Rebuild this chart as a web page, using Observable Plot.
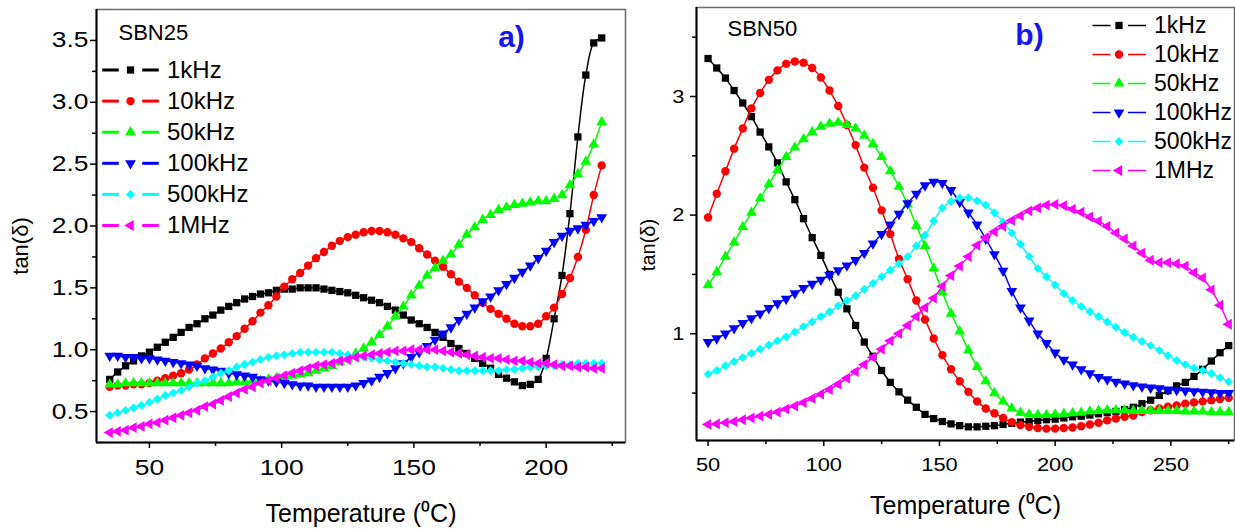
<!DOCTYPE html>
<html><head><meta charset="utf-8">
<script src="https://cdn.jsdelivr.net/npm/d3@7"></script>
<script src="https://cdn.jsdelivr.net/npm/@observablehq/plot@0.6"></script>
<style>
body{margin:0;background:#fff;}
#wrap{display:flex;width:1235px;height:529px;overflow:hidden;}
#wrap svg{display:block;}
</style></head><body><div id="wrap"></div>
<script>
// ---------- DATA ----------
const seriesNames = ["1kHz","10kHz","50kHz","100kHz","500kHz","1MHz"];
const seriesColors = ["#000000","#ff0000","#00ff00","#0000ff","#00ffff","#ff00ff"];

// Panel a) SBN25
const tempsA = [35,38,41,44,47,50,53,56,59,62,65,68,71,74,77,80,83,86,89,92,95,98,101,104,107,110,113,116,119,122,125,128,131,134,137,140,143,146,149,152,155,158,161,164,167,170,173,176,179,182,185,188,191,194,197,200,203,206,209,212,215,218,221];
const a1kHz = [0.76,0.82,0.87,0.91,0.95,0.98,1.02,1.06,1.10,1.14,1.18,1.21,1.25,1.28,1.32,1.35,1.38,1.41,1.43,1.45,1.46,1.48,1.49,1.49,1.50,1.50,1.50,1.49,1.48,1.47,1.46,1.44,1.42,1.40,1.38,1.35,1.32,1.28,1.24,1.21,1.18,1.14,1.10,1.05,1.01,0.97,0.93,0.89,0.85,0.80,0.77,0.74,0.71,0.72,0.76,0.93,1.25,1.60,2.10,2.72,3.22,3.48,3.52];
const a10kHz = [0.70,0.71,0.71,0.72,0.72,0.73,0.75,0.77,0.79,0.81,0.84,0.88,0.93,0.97,1.01,1.06,1.11,1.17,1.23,1.30,1.36,1.43,1.51,1.57,1.62,1.68,1.74,1.79,1.84,1.88,1.91,1.93,1.95,1.96,1.96,1.95,1.93,1.90,1.87,1.82,1.77,1.72,1.67,1.61,1.55,1.50,1.44,1.38,1.33,1.29,1.25,1.21,1.19,1.19,1.21,1.27,1.34,1.45,1.58,1.75,1.97,2.25,2.49];
const a50kHz = [0.72,0.72,0.73,0.73,0.73,0.73,0.73,0.73,0.73,0.73,0.73,0.73,0.73,0.73,0.73,0.73,0.74,0.74,0.75,0.75,0.76,0.77,0.78,0.79,0.80,0.81,0.83,0.85,0.87,0.90,0.93,0.97,1.01,1.06,1.12,1.19,1.27,1.35,1.44,1.52,1.60,1.66,1.72,1.77,1.85,1.93,1.99,2.05,2.09,2.13,2.15,2.17,2.18,2.19,2.20,2.20,2.22,2.25,2.33,2.42,2.52,2.66,2.84];
const a100kHz = [0.95,0.95,0.94,0.94,0.93,0.93,0.92,0.91,0.90,0.89,0.88,0.87,0.85,0.84,0.83,0.81,0.80,0.79,0.78,0.76,0.75,0.74,0.73,0.72,0.71,0.71,0.70,0.70,0.70,0.70,0.70,0.71,0.73,0.75,0.78,0.81,0.85,0.89,0.94,0.98,1.03,1.08,1.13,1.18,1.24,1.29,1.34,1.39,1.43,1.48,1.53,1.58,1.63,1.68,1.74,1.80,1.87,1.92,1.96,1.98,2.01,2.04,2.07];
const a500kHz = [0.47,0.49,0.51,0.53,0.55,0.575,0.60,0.63,0.65,0.67,0.70,0.73,0.75,0.78,0.81,0.83,0.86,0.88,0.90,0.92,0.94,0.95,0.96,0.97,0.98,0.98,0.98,0.98,0.98,0.97,0.96,0.95,0.94,0.93,0.92,0.91,0.90,0.89,0.88,0.87,0.86,0.86,0.85,0.84,0.83,0.83,0.83,0.83,0.83,0.83,0.84,0.84,0.85,0.86,0.86,0.87,0.87,0.88,0.88,0.89,0.89,0.89,0.89];
const a1MHz = [0.33,0.34,0.35,0.37,0.38,0.40,0.41,0.43,0.45,0.47,0.49,0.51,0.54,0.56,0.59,0.62,0.65,0.68,0.70,0.73,0.75,0.77,0.79,0.81,0.83,0.85,0.87,0.88,0.89,0.91,0.92,0.94,0.95,0.96,0.97,0.98,0.99,0.99,1.00,1.00,1.00,1.00,0.99,0.98,0.97,0.96,0.95,0.94,0.93,0.93,0.92,0.91,0.91,0.90,0.89,0.89,0.88,0.87,0.87,0.86,0.86,0.85,0.85];

// Panel b) SBN50
const tempsB = [50,53.75,57.5,61.25,65,68.75,72.5,76.25,80,83.75,87.5,91.25,95,98.75,102.5,106.25,110,113.75,117.5,121.25,125,128.75,132.5,136.25,140,143.75,147.5,151.25,155,158.75,162.5,166.25,170,173.75,177.5,181.25,185,188.75,192.5,196.25,200,203.75,207.5,211.25,215,218.75,222.5,226.25,230,233.75,237.5,241.25,245,248.75,252.5,256.25,260,263.75,267.5,271.25,275];
const b1kHz = [3.32,3.24,3.155,3.05,2.945,2.83,2.70,2.575,2.44,2.28,2.13,1.97,1.81,1.66,1.50,1.35,1.21,1.07,0.93,0.81,0.69,0.59,0.51,0.44,0.38,0.32,0.285,0.26,0.24,0.225,0.215,0.215,0.22,0.225,0.235,0.245,0.255,0.26,0.27,0.275,0.28,0.29,0.30,0.305,0.315,0.325,0.335,0.345,0.36,0.38,0.41,0.44,0.48,0.52,0.56,0.59,0.64,0.70,0.77,0.84,0.90];
const b10kHz = [1.98,2.18,2.37,2.56,2.73,2.90,3.03,3.14,3.22,3.275,3.295,3.285,3.24,3.16,3.05,2.92,2.76,2.59,2.40,2.23,2.04,1.84,1.63,1.46,1.28,1.12,0.96,0.82,0.70,0.60,0.51,0.43,0.37,0.33,0.29,0.255,0.23,0.215,0.205,0.20,0.20,0.205,0.21,0.22,0.235,0.25,0.27,0.285,0.30,0.31,0.34,0.355,0.37,0.385,0.395,0.41,0.42,0.43,0.44,0.45,0.46];
const b50kHz = [1.41,1.52,1.65,1.77,1.90,2.02,2.14,2.26,2.38,2.49,2.57,2.64,2.70,2.745,2.77,2.78,2.76,2.73,2.67,2.60,2.49,2.37,2.24,2.09,1.91,1.74,1.55,1.35,1.17,1.02,0.86,0.72,0.60,0.50,0.43,0.37,0.335,0.32,0.315,0.315,0.32,0.325,0.33,0.335,0.345,0.35,0.355,0.355,0.355,0.35,0.35,0.35,0.35,0.35,0.35,0.345,0.345,0.345,0.34,0.34,0.34];
const b100kHz = [0.93,0.96,1.00,1.045,1.09,1.13,1.17,1.215,1.255,1.295,1.34,1.385,1.42,1.455,1.495,1.535,1.575,1.62,1.68,1.76,1.84,1.92,2.01,2.10,2.18,2.25,2.28,2.27,2.21,2.11,2.02,1.92,1.80,1.67,1.53,1.36,1.22,1.11,1.00,0.92,0.84,0.78,0.74,0.70,0.665,0.635,0.615,0.595,0.58,0.565,0.555,0.545,0.54,0.53,0.525,0.52,0.515,0.51,0.505,0.50,0.50];
const b500kHz = [0.66,0.69,0.73,0.765,0.80,0.835,0.87,0.905,0.94,0.975,1.015,1.06,1.10,1.145,1.185,1.235,1.28,1.32,1.375,1.425,1.48,1.535,1.59,1.65,1.74,1.83,1.95,2.06,2.115,2.145,2.145,2.12,2.085,2.02,1.94,1.85,1.755,1.65,1.55,1.48,1.41,1.34,1.28,1.23,1.185,1.145,1.10,1.055,1.01,0.97,0.935,0.90,0.86,0.815,0.775,0.74,0.71,0.69,0.665,0.63,0.595];
const b1MHz = [0.235,0.24,0.25,0.26,0.275,0.29,0.305,0.32,0.34,0.365,0.39,0.42,0.455,0.49,0.53,0.575,0.625,0.68,0.74,0.80,0.87,0.94,1.00,1.07,1.145,1.22,1.30,1.40,1.49,1.57,1.65,1.745,1.81,1.86,1.905,1.955,1.995,2.035,2.06,2.085,2.09,2.08,2.05,2.025,1.985,1.95,1.905,1.85,1.80,1.74,1.68,1.62,1.60,1.60,1.59,1.57,1.515,1.47,1.37,1.24,1.08];

// Axis ticks
const xTicksA = [50,100,150,200], xMinorA = [75,125,175,225];
const yTicksA = [0.5,1.0,1.5,2.0,2.5,3.0,3.5], yMinorA = [0.75,1.25,1.75,2.25,2.75,3.25];
const xTicksB = [50,100,150,200,250], xMinorB = [75,125,175,225,275];
const yTicksB = [1,2,3], yMinorB = [0.5,1.5,2.5,3.5];

// ---------- SYMBOLS ----------
const sqrt3 = Math.sqrt(3);
const triDown = {draw(c, size){const y=-Math.sqrt(size/(sqrt3*3)); c.moveTo(0,-2*y); c.lineTo(-sqrt3*y,y); c.lineTo(sqrt3*y,y); c.closePath();}};
const triLeft = {draw(c, size){const y=-Math.sqrt(size/(sqrt3*3)); c.moveTo(2*y,0); c.lineTo(-y,-sqrt3*y); c.lineTo(-y,sqrt3*y); c.closePath();}};
const dash = {draw(c, size){const r=Math.sqrt(size/Math.PI); c.moveTo(-r,0); c.lineTo(r,0);}};
const symbols = ["square","circle","triangle",triDown,"diamond2",triLeft];
const radii = [4.1,4.2,4.0,4.0,4.0,4.0];

const FONT = "'Liberation Sans', Arial, Helvetica, sans-serif";

function panel(cfg){
  const marks = [];
  marks.push(Plot.frame({stroke:"#6a6a6a", strokeWidth:1.5}));
  marks.push(Plot.ruleX([cfg.xDomain[0]], {stroke:"#000", strokeWidth:2}));
  marks.push(Plot.ruleY([cfg.yDomain[0]], {stroke:"#000", strokeWidth:2}));
  marks.push(Plot.axisX({ticks: cfg.xTicks, tickSize:6, tickPadding:cfg.xPad, fontSize:cfg.tickFont, strokeWidth:1.5, label:null}));
  marks.push(Plot.axisX({ticks: cfg.xMinor, tickSize:4, tickFormat:()=>"", strokeWidth:1.5, label:null}));
  marks.push(Plot.axisY({ticks: cfg.yTicks, tickSize:6, tickPadding:cfg.yPad, fontSize:cfg.tickFont, strokeWidth:1.5, tickFormat: cfg.yFormat, label:null}));
  marks.push(Plot.axisY({ticks: cfg.yMinor, tickSize:4, tickFormat:()=>"", strokeWidth:1.5, label:null}));
  cfg.data.forEach((vals,i)=>{
    const rows = cfg.temps.map((t,j)=>({t, v: vals[j]}));
    marks.push(Plot.line(rows, {x:"t", y:"v", stroke: seriesColors[i], strokeWidth:1.5, curve:"catmull-rom"}));
    marks.push(Plot.dot(rows, {x:"t", y:"v", fill: seriesColors[i], stroke:"none", symbol: symbols[i], r: radii[i]}));
  });
  seriesNames.forEach((name,i)=>{
    const dy = cfg.leg.top + i*cfg.leg.step;
    for (const dx of [cfg.leg.d1, cfg.leg.d2]) {
      marks.push(Plot.dot([0], {frameAnchor:"top-left", dx, dy, symbol: dash, r: cfg.leg.half, stroke: seriesColors[i], strokeWidth: cfg.leg.lw, fill:"none"}));
    }
    marks.push(Plot.dot([0], {frameAnchor:"top-left", dx: cfg.leg.m, dy, symbol: symbols[i], r: radii[i], fill: seriesColors[i], stroke:"none"}));
    marks.push(Plot.text([name], {frameAnchor:"top-left", dx: cfg.leg.tx, dy, textAnchor:"start", lineAnchor:"middle", fontSize: cfg.leg.font, fill:"#000"}));
  });
  marks.push(Plot.text([cfg.name], {frameAnchor:"top-left", dx: cfg.nameX, dy: cfg.nameY, textAnchor:"start", lineAnchor:"middle", fontSize:22, fill:"#000"}));
  marks.push(Plot.text([cfg.tag], {frameAnchor:"top-left", dx: cfg.tagX, dy: cfg.tagY, textAnchor:"middle", lineAnchor:"middle", fontSize:30, fontWeight:"bold", fill:"#1515f0"}));
  marks.push(Plot.text(["Temperature (\u2070C)"], {frameAnchor:"bottom", dy: cfg.xLabY, lineAnchor:"middle", fontSize:25, fill:"#000"}));
  marks.push(Plot.text(["tan(\u03b4)"], {frameAnchor:"left", dx: cfg.yLabX, dy: cfg.yLabDy, rotate:-90, textAnchor:"middle", lineAnchor:"middle", fontSize: cfg.yLabFont, fill:"#000"}));

  const svg = Plot.plot({
    width: cfg.width, height: 529,
    marginLeft: cfg.ml, marginRight: cfg.mr, marginTop: cfg.mt, marginBottom: 529 - cfg.bottom,
    x: {domain: cfg.xDomain},
    y: {domain: cfg.yDomain},
    style: {fontFamily: FONT, color:"#000", background:"#fff", overflow:"visible"},
    marks
  });
  // widen tick labels horizontally (the reference's tick font is wider than Arial)
  svg.querySelectorAll('g[aria-label="x-axis tick label"] text, g[aria-label="y-axis tick label"] text').forEach(t => {
    const s = cfg.tickStretch;
    const xa = t.getAttribute("x");
    if (xa !== null && !isNaN(+xa)) t.setAttribute("x", (+xa) / s);
    const tr = t.getAttribute("transform") || "";
    t.setAttribute("transform", (tr + ` scale(${s},1)`).trim());
  });
  return svg;
}

const wrap = document.getElementById("wrap");
wrap.appendChild(panel({
  width: 645, ml: 96, mr: 20, mt: 9, bottom: 442,
  xDomain:[30,230], yDomain:[0.25,3.75],
  xTicks:xTicksA, xMinor:xMinorA, yTicks:yTicksA, yMinor:yMinorA, yFormat: d3.format(".1f"),
  tickFont:22, tickStretch:1.2, xPad:11, yPad:2,
  temps: tempsA, data:[a1kHz,a10kHz,a50kHz,a100kHz,a500kHz,a1MHz],
  leg:{top:60.5, step:31.1, d1:14, d2:54, m:34, tx:70.5, half:8.3, lw:3, font:24},
  name:"SBN25", nameX:22, nameY:23, tag:"a)", tagX:415, tagY:28,
  xLabY:71, yLabX:-76, yLabDy:20, yLabFont:22
}));
wrap.appendChild(panel({
  width: 590, ml: 51, mr: 1, mt: 7, bottom: 440,
  xDomain:[45,277.5], yDomain:[0.1,3.75],
  xTicks:xTicksB, xMinor:xMinorB, yTicks:yTicksB, yMinor:yMinorB, yFormat: d3.format("d"),
  tickFont:19, tickStretch:1.15, xPad:11, yPad:6,
  temps: tempsB, data:[b1kHz,b10kHz,b50kHz,b100kHz,b500kHz,b1MHz],
  leg:{top:18, step:29, d1:405, d2:440.5, m:422.5, tx:457.5, half:9, lw:1.5, font:23},
  name:"SBN50", nameX:31, nameY:21, tag:"b)", tagX:333, tagY:28,
  xLabY:65, yLabX:-48, yLabDy:21, yLabFont:20
}));
</script>
</body></html>
